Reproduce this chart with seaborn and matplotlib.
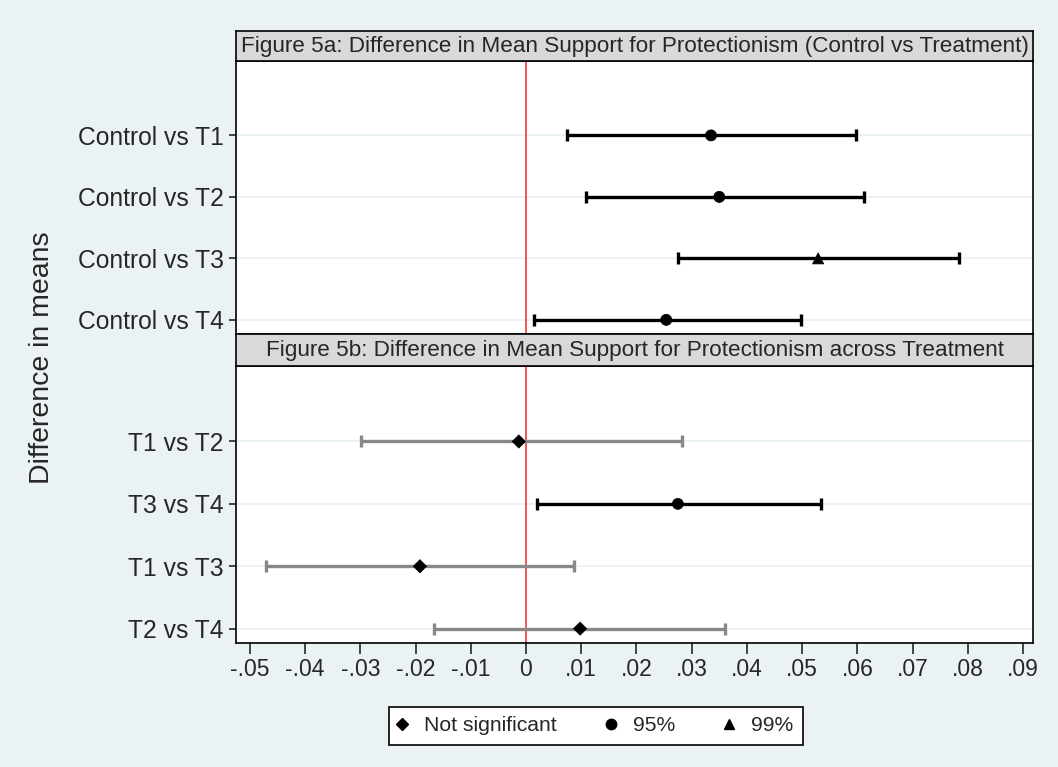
import numpy as np
import pandas as pd
import seaborn as sns
import matplotlib.pyplot as plt
from matplotlib.lines import Line2D

# panel a: control vs treatments
labels_a = ["Control vs T1", "Control vs T2", "Control vs T3", "Control vs T4"]
est_a = [0.0335, 0.0350, 0.0529, 0.0254]
lo_a = [0.0074, 0.0109, 0.0275, 0.0014]
hi_a = [0.0598, 0.0612, 0.0784, 0.0498]
sig_a = ["95%", "95%", "99%", "95%"]

# panel b: across treatments
labels_b = ["T1 vs T2", "T3 vs T4", "T1 vs T3", "T2 vs T4"]
est_b = [-0.0013, 0.0275, -0.0192, 0.0098]
lo_b = [-0.0299, 0.0020, -0.0471, -0.0167]
hi_b = [0.0283, 0.0534, 0.0087, 0.0360]
sig_b = ["Not significant", "95%", "Not significant", "Not significant"]

titles = ["Figure 5a: Difference in Mean Support for Protectionism (Control vs Treatment)",
          "Figure 5b: Difference in Mean Support for Protectionism across Treatment"]
xticks = [-0.05, -0.04, -0.03, -0.02, -0.01, 0, 0.01, 0.02, 0.03, 0.04, 0.05, 0.06, 0.07, 0.08, 0.09]
xtick_labels = ["-.05", "-.04", "-.03", "-.02", "-.01", "0", ".01", ".02", ".03", ".04",
                ".05", ".06", ".07", ".08", ".09"]

sns.set_style("white")
plt.rcParams['font.family'] = ['Liberation Sans', 'DejaVu Sans']

bg = "#eaf2f3"
markers = {"Not significant": "D", "95%": "o", "99%": "^"}
sizes = {"Not significant": 45, "95%": 62, "99%": 62}

fig = plt.figure(figsize=(10.58, 7.67), dpi=100, facecolor=bg)

L, W = 236 / 1058, 797 / 1058
H = 767
def fa(top, bot):
    return [L, 1 - bot / H, W, (bot - top) / H]

ax_a = fig.add_axes(fa(61, 334))
ax_b = fig.add_axes(fa(366, 643))
st_a = fig.add_axes(fa(31, 61))
st_b = fig.add_axes(fa(334, 366))

panels = [(ax_a, labels_a, est_a, lo_a, hi_a, sig_a),
          (ax_b, labels_b, est_b, lo_b, hi_b, sig_b)]

for ax, labels, est, lo, hi, sig in panels:
    df = pd.DataFrame({"label": labels, "est": est, "lo": lo, "hi": hi, "sig": sig})
    for _, r in df.iterrows():
        col = "#888888" if r["sig"] == "Not significant" else "black"
        ax.errorbar([r["est"]], [r["label"]],
                    xerr=[[r["est"] - r["lo"]], [r["hi"] - r["est"]]],
                    fmt="none", ecolor=col, elinewidth=2.4, capsize=4.5, capthick=2.4, zorder=2)
    sns.scatterplot(data=df, x="est", y="label", style="sig", markers=markers,
                    size="sig", sizes=sizes, color="black", edgecolor="black",
                    legend=False, ax=ax, zorder=3)
    for i in range(len(labels)):
        ax.axhline(i, color=bg, lw=1.5, zorder=0)
    ax.axvline(0, color="#f0585a", lw=1.4, zorder=1)
    ax.set_ylim(3.23, -1.21)
    ax.set_xlim(-0.0525, 0.0918)
    ax.set_xlabel("")
    ax.set_ylabel("")
    ax.tick_params(axis="y", labelsize=17.7, length=5, width=1.2, direction="out", left=True, pad=4)
    for s in ax.spines.values():
        s.set_color("black")
        s.set_linewidth(1.2)

ax_a.set_xticks([])
ax_b.set_xticks(xticks)
ax_b.set_xticklabels(xtick_labels)
ax_b.tick_params(axis="x", labelsize=16.5, length=8, width=1.2, direction="out", bottom=True, pad=3)

for st, t in zip([st_a, st_b], titles):
    st.set_facecolor("#d9d9d9")
    st.set_xticks([])
    st.set_yticks([])
    for s in st.spines.values():
        s.set_color("black")
        s.set_linewidth(1.2)
    st.text(0.5, 0.47, t, ha="center", va="center", fontsize=16.2, transform=st.transAxes)

fig.text(42 / 1058, 1 - 358 / H, "Difference in means", rotation=90, ha="center", va="center",
         fontsize=20.5)

handles = [Line2D([], [], ls="none", marker=markers[k], color="black", markersize=ms, label=k)
           for k, ms in zip(["Not significant", "95%", "99%"], [6, 7.5, 7.5])]
leg = fig.legend(handles=handles, ncol=3, loc="center", bbox_to_anchor=(596 / 1058, 1 - 725.5 / H),
                 fontsize=15.2, frameon=True, fancybox=False, edgecolor="black", framealpha=1,
                 handlelength=0.3, handletextpad=0.9, columnspacing=2.4, borderpad=0.45,
                 borderaxespad=0)
leg.get_frame().set_linewidth(1.2)

fig.savefig("out.png", dpi=100, facecolor=bg)
